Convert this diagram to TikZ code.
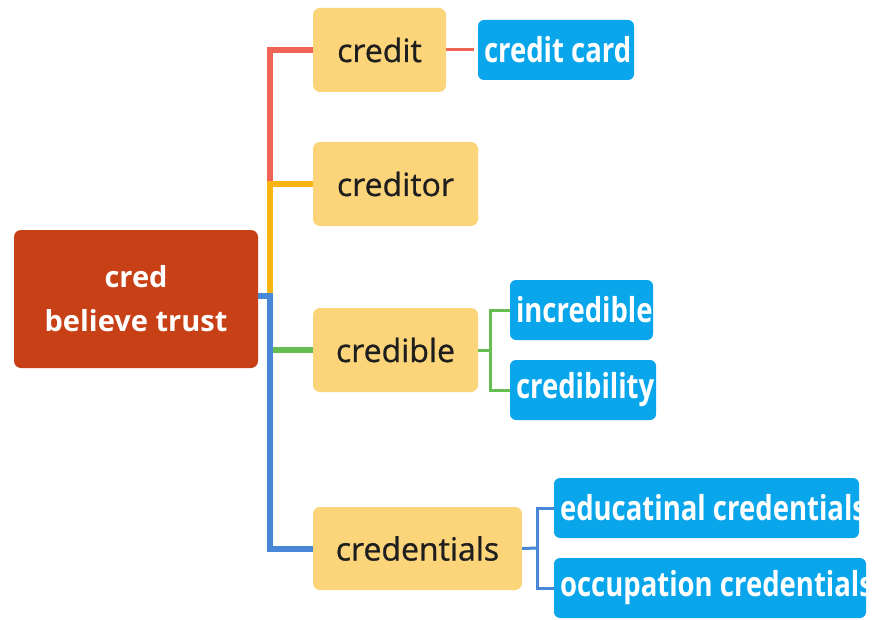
\documentclass[tikz,border=0pt]{standalone}
\usepackage{fontspec}
\setmainfont{Open Sans}
\definecolor{rootc}{RGB}{200,64,22}
\definecolor{yelc}{RGB}{252,213,122}
\definecolor{bluec}{RGB}{10,166,236}
\definecolor{redl}{RGB}{240,100,85}
\definecolor{orgl}{RGB}{250,180,20}
\definecolor{blul}{RGB}{72,134,215}
\definecolor{grnl}{RGB}{102,190,82}
\definecolor{txtc}{RGB}{30,30,30}
\newcommand{\leaftext}[2]{\makebox[#1][l]{\raisebox{2pt}{\scalebox{1}[1.25]{#2}}}}
\begin{document}
\begin{tikzpicture}[x=1pt,y=-1pt,
  rootbox/.style={fill=rootc, rounded corners=7pt, text=white, font=\bfseries\fontsize{29}{44}\selectfont, align=center, inner sep=0pt},
  mainbox/.style={fill=yelc, rounded corners=7pt, text=txtc, font=\fontsize{32}{38}\selectfont\addfontfeature{FakeBold=0.8}, inner sep=0pt},
  leafbox/.style={fill=bluec, rounded corners=6pt, text=white, font=\bfseries\fontsize{27.5}{32}\selectfont, inner xsep=6pt, inner ysep=0pt},
  trunkline/.style={line width=6pt, line join=miter},
  twig/.style={line width=3pt, line join=miter}
]
\useasboundingbox (0,0) rectangle (890,620);
\fill[white] (0,0) rectangle (890,620);

\node[rootbox, minimum width=244pt, minimum height=138pt] (root) at (136,299) {cred\\believe trust};

\node[mainbox, minimum width=133pt, minimum height=84pt] (credit) at (379.5,50) {credit};
\node[mainbox, minimum width=165pt, minimum height=84pt] (creditor) at (395.5,184) {creditor};
\node[mainbox, minimum width=165pt, minimum height=84pt] (credible) at (395.5,350) {credible};
\node[mainbox, minimum width=209pt, minimum height=83pt] (credentials) at (417.5,548.5) {credentials};

\node[leafbox, minimum height=60pt] (card) at (556,50) {\leaftext{144pt}{credit card}};
\node[leafbox, minimum height=60pt] (incred) at (581.5,310) {\leaftext{131pt}{incredible}};
\node[leafbox, minimum height=60pt] (credib) at (583,390) {\leaftext{134pt}{credibility}};
\node[leafbox, minimum height=60pt] (edu) at (706.5,508) {\leaftext{293pt}{educatinal credentials}};
\node[leafbox, minimum height=60pt] (occ) at (710,588) {\leaftext{300pt}{occupation credentials}};

\coordinate (trunk) at (270,296);
\coordinate (gb) at (490,350);
\coordinate (bb) at (537,548);

\draw[trunkline, redl] (credit.west) -- (credit.west -| trunk) -- (creditor.west -| trunk);
\draw[trunkline, orgl] (creditor.west) -- (creditor.west -| trunk) -- (trunk);
\draw[trunkline, blul] (root.east |- trunk) -- (trunk) -- (credentials.west -| trunk) -- (credentials.west);
\draw[trunkline, grnl] ([xshift=3pt]credible.west -| trunk) -- (credible.west);

\draw[twig, redl] (credit.east) -- ([xshift=-4pt]card.west);
\draw[twig, grnl] (credible.east) -- (gb);
\draw[twig, grnl] (incred.west) -- (incred.west -| gb) -- (credib.west -| gb) -- (credib.west);
\draw[twig, blul] (credentials.east) -- (bb);
\draw[twig, blul] (edu.west) -- (edu.west -| bb) -- (occ.west -| bb) -- (occ.west);
\end{tikzpicture}
\end{document}
